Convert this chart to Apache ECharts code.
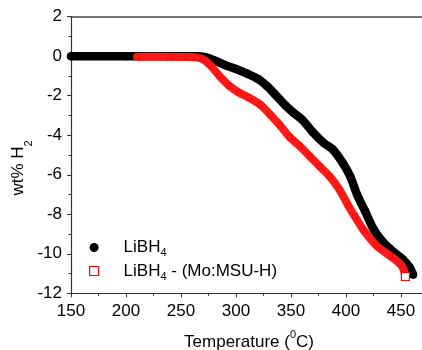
<!DOCTYPE html>
<html>
<head>
<meta charset="utf-8">
<script src="https://cdn.jsdelivr.net/npm/echarts@6/dist/echarts.min.js"></script>
<style>
html,body{margin:0;padding:0;background:#fff;}
#c{width:422px;height:350px;}
</style>
</head>
<body>
<div id="c"></div>
<script>
// Data
const seriesNames = ['LiBH4', 'LiBH4 - (Mo:MSU-H)'];
const tempLiBH4 = [150, 200, 250, 265, 272, 280, 290, 300, 310, 320, 328, 335, 345, 352, 360, 370, 380, 388, 397, 404, 410, 417, 425, 432, 440, 452, 458, 461];
const wtLiBH4   = [0, 0, 0, 0, -0.05, -0.2, -0.45, -0.65, -0.88, -1.15, -1.5, -1.9, -2.5, -2.85, -3.2, -3.85, -4.4, -4.72, -5.4, -6.1, -7.0, -7.8, -8.75, -9.3, -9.75, -10.3, -10.7, -11.05];
const tempMo = [210, 240, 255, 265, 270, 276, 285, 294, 303, 312, 322, 331, 340, 349, 358, 367, 376, 385, 394, 402, 408, 416, 428, 440, 449, 452, 454];
const wtMo   = [-0.03, -0.03, -0.04, -0.07, -0.15, -0.42, -1.0, -1.5, -1.85, -2.1, -2.45, -2.95, -3.5, -4.1, -4.55, -5.06, -5.57, -6.07, -6.75, -7.55, -8.1, -8.8, -9.6, -10.1, -10.5, -10.75, -11.15];
const xTicks = {min: 150, max: 500, interval: 50};
const yTicks = {min: -12, max: 2, interval: 2};

const FONT = 'Liberation Sans, Arial, sans-serif';
const chart = echarts.init(document.getElementById('c'), null, {renderer: 'canvas'});

const blackData = tempLiBH4.map((t, i) => [t, wtLiBH4[i]]);
const redData = tempMo.map((t, i) => {
  const p = {value: [t, wtMo[i]]};
  if (i === tempMo.length - 1) {
    p.itemStyle = {color: '#ffffff', borderColor: '#ff0000', borderWidth: 1.2};
    p.symbolSize = 8;
  }
  return p;
});

const legendRich = {
  sp: {width: 20},
  n: {fontSize: 17, fontFamily: FONT, color: '#000', lineHeight: 22, verticalAlign: 'middle'},
  s: {fontSize: 11, fontFamily: FONT, color: '#000', lineHeight: 22, verticalAlign: 'bottom'}
};

const option = {
  animation: false,
  backgroundColor: '#ffffff',
  grid: {left: 71, top: 16.7, right: -34, bottom: 56.7, containLabel: false, outerBoundsMode: 'none'},
  legend: {
    orient: 'vertical',
    left: 89,
    top: 239,
    itemWidth: 9,
    itemHeight: 9,
    itemGap: 4,
    padding: 0,
    selectedMode: false,
    data: [
      {name: seriesNames[0], icon: 'circle', itemStyle: {color: '#000'}},
      {name: seriesNames[1], icon: 'rect', itemStyle: {color: '#ffffff', borderColor: '#ff0000', borderWidth: 1.2}}
    ],
    formatter: function (name) {
      if (name === seriesNames[0]) return '{sp|}{n|LiBH}{s|4}';
      return '{sp|}{n|LiBH}{s|4}{n| - (Mo:MSU-H)}';
    },
    textStyle: {rich: legendRich}
  },
  xAxis: [{
    type: 'value',
    min: xTicks.min, max: xTicks.max, interval: xTicks.interval,
    name: '{n|Temperature (}{sup|0}{n|C)}',
    nameLocation: 'middle',
    nameGap: 36,
    nameTextStyle: {
      padding: [0, 29, 0, 0],
      rich: {
        n: {fontSize: 17, fontFamily: FONT, color: '#000', lineHeight: 22, verticalAlign: 'bottom'},
        sup: {fontSize: 11, fontFamily: FONT, color: '#000', lineHeight: 22, verticalAlign: 'top'}
      }
    },
    axisLine: {show: true, onZero: false, lineStyle: {color: '#333', width: 1.2}},
    axisTick: {show: true, length: 4, lineStyle: {color: '#333', width: 1}},
    minorTick: {show: true, splitNumber: 2, length: 2.5, lineStyle: {color: '#333', width: 1}},
    axisLabel: {fontSize: 17, fontFamily: FONT, color: '#000', margin: 10, showMaxLabel: false},
    splitLine: {show: false}
  }, {
    type: 'value', position: 'top',
    min: xTicks.min, max: xTicks.max, interval: xTicks.interval,
    axisLine: {show: true, onZero: false, lineStyle: {color: '#444', width: 1.5}},
    axisTick: {show: false}, axisLabel: {show: false}, splitLine: {show: false}
  }],
  yAxis: {
    type: 'value',
    min: yTicks.min, max: yTicks.max, interval: yTicks.interval,
    name: '{n|wt% H}{s|2}',
    nameLocation: 'middle',
    nameGap: 37,
    nameMoveOverlap: false,
    nameRotate: 90,
    nameTextStyle: {
      padding: [0, 26, 0, 0],
      rich: {
        n: {fontSize: 17, fontFamily: FONT, color: '#000', lineHeight: 24, verticalAlign: 'top'},
        s: {fontSize: 11, fontFamily: FONT, color: '#000', lineHeight: 24, verticalAlign: 'bottom'}
      }
    },
    axisLine: {show: true, onZero: false, lineStyle: {color: '#333', width: 1.2}},
    axisTick: {show: true, length: 4, lineStyle: {color: '#333', width: 1}},
    minorTick: {show: true, splitNumber: 2, length: 2.5, lineStyle: {color: '#333', width: 1}},
    axisLabel: {fontSize: 17, fontFamily: FONT, color: '#000', margin: 9},
    splitLine: {show: false}
  },
  series: [{
    name: seriesNames[0],
    type: 'line',
    data: blackData,
    smooth: 0.3,
    symbol: 'circle',
    symbolSize: 8,
    showAllSymbol: true,
    itemStyle: {color: '#000000'},
    lineStyle: {color: '#000000', width: 8.5, cap: 'round', join: 'round'},
    z: 2
  }, {
    name: seriesNames[1],
    type: 'line',
    data: redData,
    smooth: 0.3,
    symbol: 'rect',
    symbolSize: 5,
    showAllSymbol: true,
    itemStyle: {color: '#ff1a1a', borderColor: '#ee0000', borderWidth: 0.6},
    lineStyle: {color: '#ff1a1a', width: 8, cap: 'round', join: 'round'},
    z: 3
  }]
};
chart.setOption(option);
</script>
</body>
</html>
